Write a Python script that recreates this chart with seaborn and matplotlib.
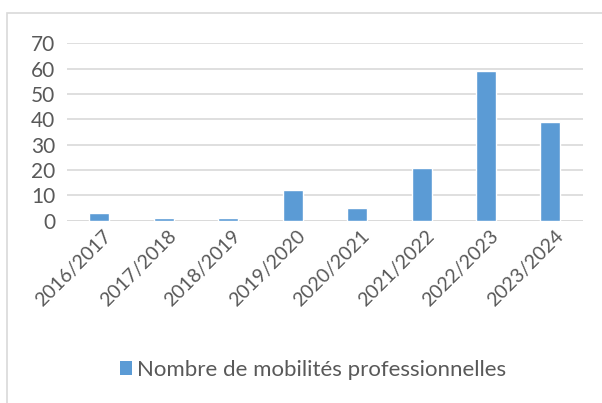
import matplotlib

matplotlib.use("agg")

import pandas as pd
import matplotlib.pyplot as plt
import matplotlib.transforms as mtransforms
import seaborn as sns
from matplotlib.patches import Rectangle, Patch

# Data
seasons = ["2016/2017", "2017/2018", "2018/2019", "2019/2020",
           "2020/2021", "2021/2022", "2022/2023", "2023/2024"]
mobilites = [3, 1, 1, 12, 5, 21, 59, 39]
series_name = "Nombre de mobilités professionnelles"

data = pd.DataFrame({"Saison": seasons, "Valeur": mobilites})

sns.set_style("white")
plt.rcParams["font.family"] = ["Lato", "DejaVu Sans"]

bar_color = "#5B9BD5"
text_color = "#595959"

fig = plt.figure(figsize=(6.02, 4.03), dpi=100)
ax = fig.add_axes([0.111, 0.452, 0.857, 0.441])

sns.barplot(data=data, x="Saison", y="Valeur", color=bar_color,
            width=0.31, saturation=1, ax=ax)

ax.set_ylim(0, 70)
ax.set_yticks(range(0, 71, 10))
ax.set_xlim(-0.5, len(seasons) - 0.5)
ax.yaxis.grid(True, color="#D9D9D9", linewidth=1.2)
ax.set_axisbelow(True)
for s in ax.spines.values():
    s.set_visible(False)
ax.axhline(0, color="#D9D9D9", linewidth=1.2, zorder=0)
ax.set_xlabel("")
ax.set_ylabel("")
ax.tick_params(axis="y", length=0, labelsize=15, labelcolor=text_color, pad=8.5)
ax.tick_params(axis="x", length=0, labelsize=14, labelcolor=text_color, pad=9)
offset = mtransforms.ScaledTranslation(10 / 100, 0, fig.dpi_scale_trans)
for lbl in ax.get_xticklabels():
    lbl.set_rotation(45)
    lbl.set_ha("right")
    lbl.set_va("center")
    lbl.set_rotation_mode("anchor")
    lbl.set_transform(lbl.get_transform() + offset)

# Legend
handle = Patch(facecolor=bar_color, edgecolor="none")
fig.legend([handle], [series_name], loc="center", bbox_to_anchor=(0.52, 0.082),
           frameon=False, fontsize=16, labelcolor=text_color,
           handlelength=0.55, handleheight=0.55, handletextpad=0.25)

# Chart border
fig.patches.append(Rectangle((0.012, -0.01), 0.995, 0.978, transform=fig.transFigure,
                             fill=False, edgecolor="#D9D9D9", linewidth=1.2))

plt.savefig("out.png", dpi=100)
